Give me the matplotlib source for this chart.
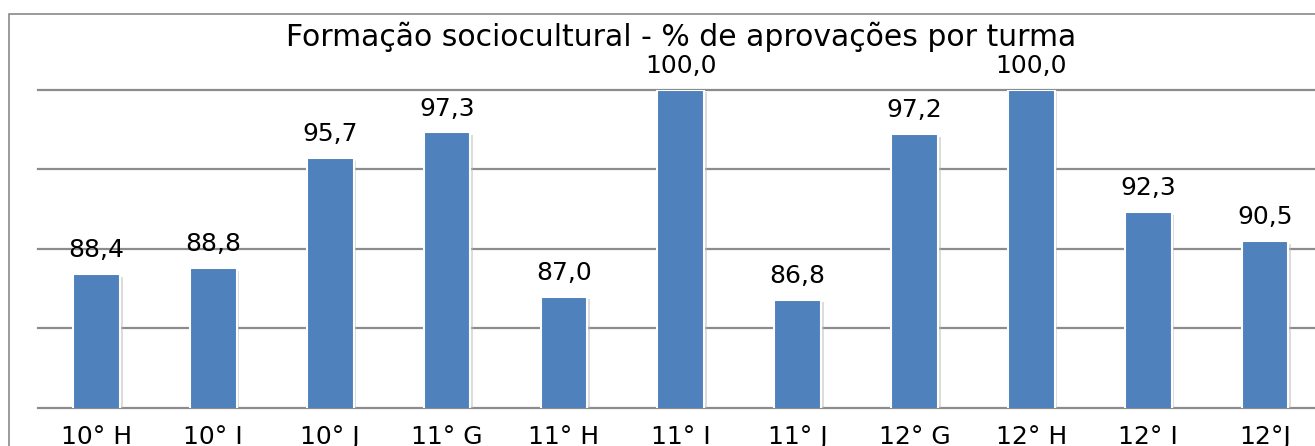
import matplotlib.pyplot as plt
import matplotlib.patheffects as pe
from matplotlib.patches import Rectangle

# dados
turmas = ['10° H', '10° I', '10° J', '11° G', '11° H', '11° I', '11° J',
          '12° G', '12° H', '12° I', '12°J']
aprovacoes = [88.4, 88.8, 95.7, 97.3, 87.0, 100.0, 86.8, 97.2, 100.0, 92.3, 90.5]
titulo = 'Formação sociocultural - % de aprovações por turma'

plt.rcParams['font.family'] = ['DejaVu Sans']

W, H = 1315, 446
fig = plt.figure(figsize=(W / 100, H / 100), dpi=100)

# moldura do gráfico (cortada à direita e em baixo)
fig.patches.append(Rectangle((8.5 / W, -0.1), 1.2, 1 - 14 / H + 0.1,
                             transform=fig.transFigure, fill=False,
                             edgecolor='#8a8a8a', linewidth=1.2))

# eixo estende-se para lá da margem direita
ax = fig.add_axes([38 / W, 1 - 408 / H, (1323.5 - 38) / W, (408 - 89.5) / H])
x = range(len(turmas))
bars = ax.bar(x, aprovacoes, width=0.4, color='#4f81bd', edgecolor='white',
              linewidth=1.5, zorder=3)
for b in bars:
    b.set_path_effects([pe.SimplePatchShadow(offset=(2, -2), shadow_rgbFace='#bbbbbb', alpha=0.5),
                        pe.Normal()])

for xi, v in zip(x, aprovacoes):
    ax.annotate(f'{v:.1f}'.replace('.', ','), (xi, v), xytext=(0, 8.5),
                textcoords='offset points', ha='center', va='bottom',
                fontsize=18, annotation_clip=False)

ax.set_ylim(80, 100)
ax.set_xlim(-0.5, len(turmas) - 0.5)
ax.set_yticks([80, 85, 90, 95, 100])
ax.yaxis.grid(True, color='#8c8c8c', linewidth=1.6, zorder=0)
for gl in ax.get_ygridlines():
    gl.set_clip_on(False)
ax.set_axisbelow(True)
ax.tick_params(axis='y', left=False, labelleft=False)
ax.tick_params(axis='x', length=0, pad=12, labelsize=18)
ax.set_xticks(list(x))
ax.set_xticklabels(turmas)
for s in ax.spines.values():
    s.set_visible(False)

fig.text(681 / W, 1 - 37 / H, titulo, ha='center', va='center', fontsize=21.5)

fig.savefig('out.png', dpi=100)
